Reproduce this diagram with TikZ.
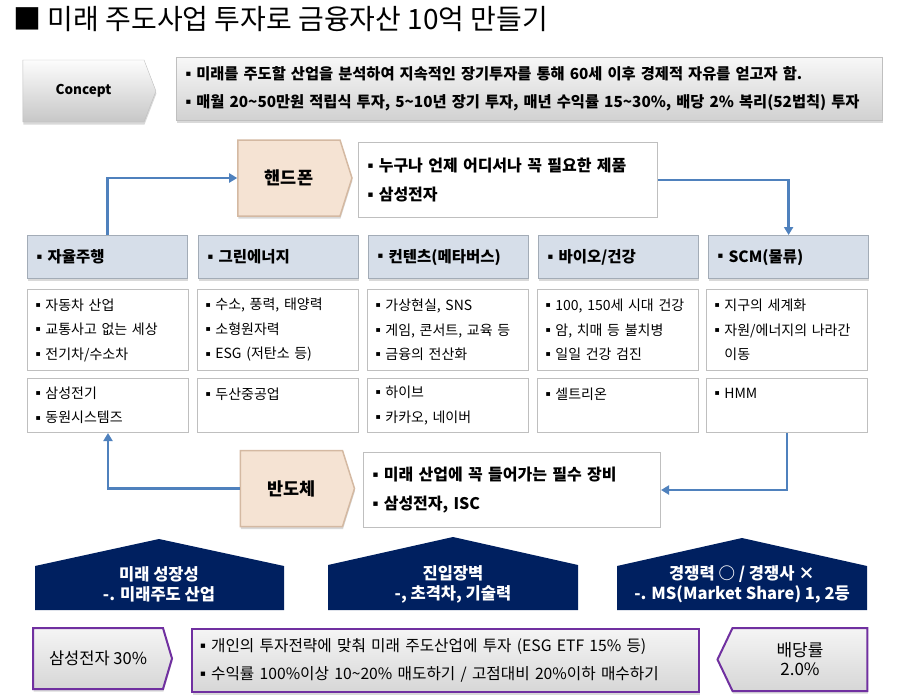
\documentclass[tikz,border=0pt]{standalone}
\usepackage{fontspec}
\usepackage{graphicx}
\setmainfont{Noto Sans CJK KR}
\newfontfamily\bulfont{DejaVu Sans}
\usetikzlibrary{shapes.symbols,arrows.meta,shadows}
\definecolor{linkblue}{HTML}{4F81BD}
\definecolor{catfill}{HTML}{D6DEE9}
\definecolor{catedge}{HTML}{A3ACB7}
\definecolor{peach}{HTML}{F5E3D3}
\definecolor{peachedge}{HTML}{D4B9A2}
\definecolor{boxedge}{HTML}{BFBFBF}
\definecolor{navy}{HTML}{002060}
\definecolor{edgepurple}{HTML}{7030A0}
\newcommand\bul{\raisebox{0.2em}{\scalebox{0.55}{\bulfont ▪}}\ }
\tikzset{
  flow/.style={draw=linkblue, line width=2.6pt},
  softshadow/.style={drop shadow={shadow xshift=0.5pt, shadow yshift=-2.5pt, opacity=0.3}},
  conceptsign/.style={signal, signal to=east, signal pointer angle=138, draw=black!25,
    top color=black!1, bottom color=black!22, minimum width=133pt, minimum height=62pt,
    font=\bfseries\fontsize{13.5}{16}\selectfont, softshadow},
  peachsign/.style={signal, signal to=east, signal pointer angle=145, fill=peach,
    draw=peachedge, line width=1.5pt, minimum width=114pt, minimum height=76pt,
    font=\bfseries\fontsize{17.5}{20}\selectfont, softshadow},
  notebox/.style={draw=boxedge, line width=1pt, fill=white, anchor=north west,
    inner xsep=9pt, align=left, font=\bfseries\fontsize{16}{29}\selectfont},
  catbox/.style={draw=catedge, line width=1.2pt, fill=catfill, anchor=north west,
    minimum height=43pt, inner xsep=9pt, text width=142pt, align=left,
    font=\bfseries\fontsize{15.5}{17}\selectfont, softshadow},
  detailbox/.style={draw=boxedge, line width=1pt, fill=white, anchor=north west,
    inner xsep=8pt, text width=145pt, align=left,
    font=\fontsize{14}{24.5}\selectfont},
  housetext/.style={text=white, align=center, font=\bfseries\fontsize{16.5}{20}\selectfont},
  purplebox/.style={draw=edgepurple, line width=2pt, top color=black!4, bottom color=black!16,
    font=\fontsize{15.7}{28}\selectfont, softshadow},
}
\begin{document}
\begin{tikzpicture}[x=1pt, y=-1pt, >={Triangle[length=8pt,width=9pt]}]
  \useasboundingbox (0,0) rectangle (902,699);
  \node[anchor=west, font=\fontsize{28}{30}\selectfont] (title) at (10,19)
    {■ 미래 주도사업 투자로 금융자산 10억 만들기};

  % concept
  \node[conceptsign] (concept) at (83.5,91) {Concept};
  \node[notebox, draw=black!25, top color=black!3, bottom color=black!18,
    minimum width=706pt, minimum height=63pt, text width=688pt,
    font=\bfseries\fontsize{15.3}{28}\selectfont, softshadow] (conceptinfo) at (176,57)
    {\bul 미래를 주도할 산업을 분석하여 지속적인 장기투자를 통해 60세 이후 경제적 자유를 얻고자 함.\\
     \bul 매월 20\textasciitilde50만원 적립식 투자, 5\textasciitilde10년 장기 투자, 매년 수익률 15\textasciitilde30\%, 배당 2\% 복리(52법칙) 투자};

  % top: phone
  \node[peachsign] (phone) at (289,178) {핸드폰};
  \node[notebox, minimum width=299pt, minimum height=75pt, text width=281pt] (phoneinfo) at (358,142)
    {\bul 누구나 언제 어디서나 꼭 필요한 제품\\ \bul 삼성전자};

  % industries
  \node[catbox] (auto) at (27,235) {\bul 자율주행};
  \node[catbox] (green) at (198,235) {\bul 그린에너지};
  \node[catbox] (content) at (368,235) {\bul 컨텐츠(메타버스)};
  \node[catbox] (bio) at (538,235) {\bul 바이오/건강};
  \node[catbox] (scm) at (708,235) {\bul SCM(물류)};

  \node[detailbox, minimum height=81pt] (autodesc) at (27,289)
    {\bul 자동차 산업\\ \bul 교통사고 없는 세상\\ \bul 전기차/수소차};
  \node[detailbox, minimum height=81pt] (greendesc) at (197,289)
    {\bul 수소, 풍력, 태양력\\ \bul 소형원자력\\ \bul ESG (저탄소 등)};
  \node[detailbox, minimum height=81pt] (contentdesc) at (367,289)
    {\bul 가상현실, SNS\\ \bul 게임, 콘서트, 교육 등\\ \bul 금융의 전산화};
  \node[detailbox, minimum height=81pt] (biodesc) at (537,289)
    {\bul 100, 150세 시대 건강\\ \bul 암, 치매 등 불치병\\ \bul 일일 건강 검진};
  \node[detailbox, minimum height=81pt] (scmdesc) at (706,289)
    {\bul 지구의 세계화\\ \bul 자원/에너지의 나라간\\ \phantom{\bul}이동};

  \node[detailbox, minimum height=54pt] (autoco) at (27,378) {\bul 삼성전기\\ \bul 동원시스템즈};
  \node[detailbox, minimum height=54pt] (greenco) at (197,378) {\bul 두산중공업\\ ~};
  \node[detailbox, minimum height=54pt] (contentco) at (367,378) {\bul 하이브\\ \bul 카카오, 네이버};
  \node[detailbox, minimum height=54pt] (bioco) at (537,378) {\bul 셀트리온\\ ~};
  \node[detailbox, minimum height=54pt] (scmco) at (706,378) {\bul HMM\\ ~};

  % bottom: semiconductor
  \node[peachsign] (semi) at (291.5,488.5) {반도체};
  \node[notebox, minimum width=297pt, minimum height=75pt, text width=279pt] (semiinfo) at (363,452)
    {\bul 미래 산업에 꼭 들어가는 필수 장비\\ \bul 삼성전자, ISC};

  \draw[flow,->] (auto.north) |- (phone.west);
  \draw[flow,->] (phoneinfo.east) -| (scm.north);
  \draw[flow,->] (scmco.south) |- (semiinfo.east);
  \draw[flow,->] (semi.west) -| (autoco.south);

  % criteria
  \fill[navy] (35,610) -- (35,566) -- (159,539) -- (284,566) -- (284,610) -- cycle;
  \fill[navy] (328,610) -- (328,565) -- (453,537) -- (578,565) -- (578,610) -- cycle;
  \fill[navy] (617,610) -- (617,566) -- (742,538) -- (867,566) -- (867,610) -- cycle;
  \node[housetext] (growth) at (159,584) {미래 성장성\\ -. 미래주도 산업};
  \node[housetext] (barrier) at (453,584) {진입장벽\\ -, 초격차, 기술력};
  \node[housetext] (compete) at (742,584) {경쟁력 ○ / 경쟁사 ×\\ -. MS(Market Share) 1, 2등};

  % portfolio
  \node[purplebox, signal, signal to=east, signal pointer angle=147, font=\fontsize{16.5}{20}\selectfont,
    minimum width=139pt, minimum height=61pt] (share) at (98,658.5) {삼성전자 30\%};
  \node[purplebox, anchor=north west, minimum width=507pt, minimum height=63pt,
    inner xsep=8pt, text width=491pt, align=left] (plan) at (191,628)
    {\bul 개인의 투자전략에 맞춰 미래 주도산업에 투자 (ESG ETF 15\% 등)\\
     \bul 수익률 100\%이상 10\textasciitilde20\% 매도하기 / 고점대비 20\%이하 매수하기};
  \node[purplebox, signal, signal to=west, signal pointer angle=129, align=center,
    minimum width=150pt, minimum height=63pt, font=\fontsize{17}{19}\selectfont] (dividend) at (800,659.5)
    {배당률\\ 2.0\%};
\end{tikzpicture}
\end{document}
